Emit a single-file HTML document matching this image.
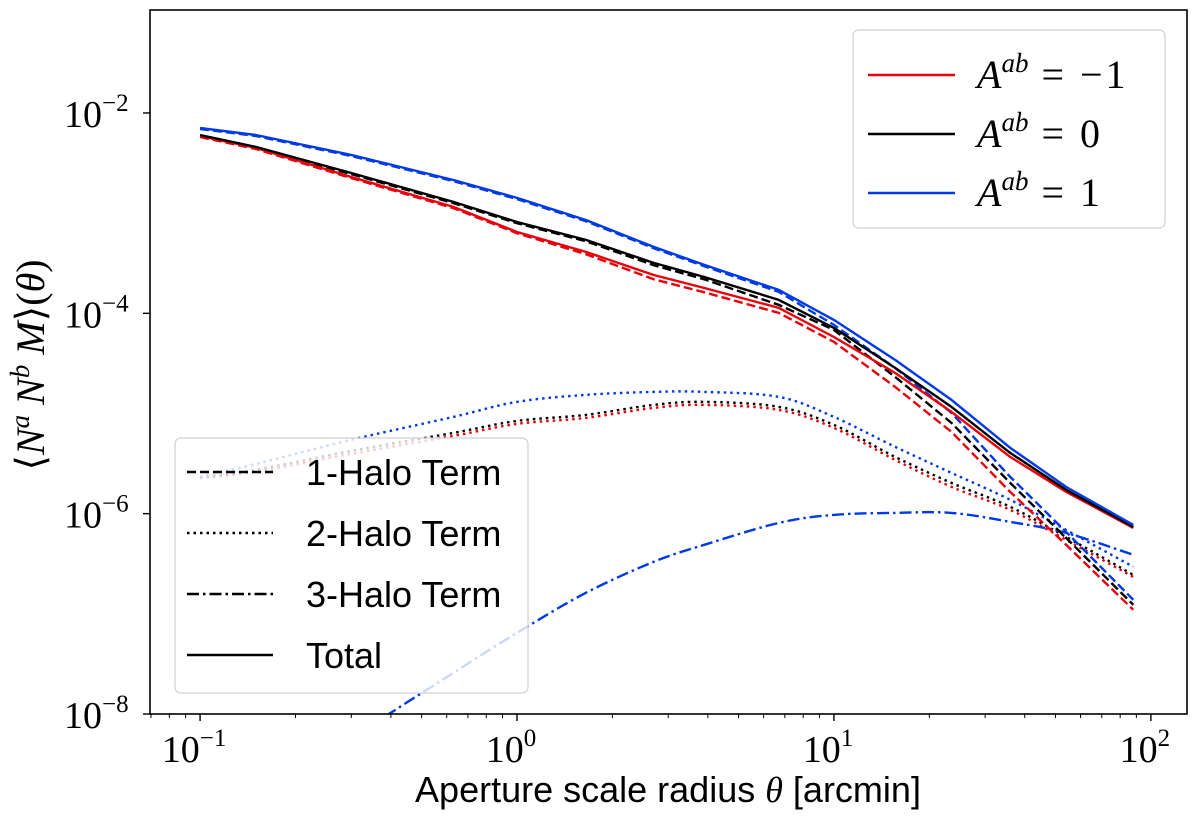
<!DOCTYPE html>
<html><head><meta charset="utf-8"><style>
html,body{margin:0;padding:0;background:#fff;}
svg{display:block;}
</style></head><body>
<svg id="chart" width="1200" height="825" viewBox="0 0 1200 825" xmlns="http://www.w3.org/2000/svg"></svg>
<script>
// theta grid (arcmin)
const thetaValues = [0.1,0.15,0.3,0.63,1.0,1.65,2.7,3.9,6.7,10,15.6,23.5,36,54,88];
// log10 of <NaNbM>(theta)
const totalBlueLog  = [-2.150,-2.220,-2.419,-2.669,-2.848,-3.068,-3.337,-3.517,-3.766,-4.066,-4.465,-4.864,-5.343,-5.733,-6.112];
const totalBlackLog = [-2.220,-2.339,-2.599,-2.888,-3.088,-3.267,-3.497,-3.637,-3.866,-4.146,-4.545,-4.934,-5.393,-5.762,-6.132];
const totalRedLog   = [-2.230,-2.349,-2.639,-2.938,-3.188,-3.387,-3.617,-3.747,-3.946,-4.236,-4.595,-4.984,-5.433,-5.782,-6.142];
const oneHaloBlueLog  = [-2.16,-2.23,-2.43,-2.68,-2.86,-3.08,-3.35,-3.53,-3.786,-4.116,-4.545,-4.994,-5.633,-6.182,-6.860];
const oneHaloBlackLog = [-2.23,-2.35,-2.61,-2.90,-3.10,-3.28,-3.52,-3.66,-3.916,-4.166,-4.635,-5.094,-5.693,-6.242,-6.910];
const oneHaloRedLog   = [-2.24,-2.36,-2.65,-2.95,-3.20,-3.41,-3.66,-3.79,-3.996,-4.285,-4.735,-5.184,-5.783,-6.311,-6.960];
const twoHaloBlueLog  = [-5.633,-5.503,-5.263,-5.034,-4.884,-4.814,-4.784,-4.784,-4.834,-5.034,-5.333,-5.593,-5.862,-6.162,-6.531];
const twoHaloBlackLog = [-5.643,-5.563,-5.373,-5.194,-5.074,-5.014,-4.914,-4.884,-4.934,-5.114,-5.433,-5.693,-5.932,-6.232,-6.611];
const twoHaloRedLog   = [-5.643,-5.583,-5.403,-5.224,-5.104,-5.044,-4.944,-4.914,-4.964,-5.144,-5.463,-5.733,-5.962,-6.262,-6.631];
const threeHaloBlueLog = [-9.295,-8.926,-8.248,-7.589,-7.190,-6.790,-6.481,-6.311,-6.092,-6.012,-5.992,-5.992,-6.082,-6.192,-6.411];
const xTickExps = [-1,0,1,2];
const yTickExps = [-2,-4,-6,-8];
const legendTopLabels = ["= \u22121","= 0","= 1"];
const legendBottomLabels = ["1-Halo Term","2-Halo Term","3-Halo Term","Total"];

const NS="http://www.w3.org/2000/svg";
const svg=document.getElementById('chart');
const L=150,R=1187,T=10,B=714;
const xMinLog=-1.158,xMaxLog=2.114,yMinLog=-8,yMaxLog=-0.972;
function xs(t){return L+(Math.log10(t)-xMinLog)/(xMaxLog-xMinLog)*(R-L);}
function xsLog(e){return L+(e-xMinLog)/(xMaxLog-xMinLog)*(R-L);}
function ys(lg){return B-(lg-yMinLog)/(yMaxLog-yMinLog)*(B-T);}
function mk(tag,attrs,parent){const e=document.createElementNS(NS,tag);for(const k in attrs)e.setAttribute(k,attrs[k]);(parent||svg).appendChild(e);return e;}

const defs=mk('defs',{});
const cp=mk('clipPath',{id:'plotclip'},defs);
mk('rect',{x:L,y:T,width:R-L,height:B-T},cp);

const RED='#e8000b',BLUE='#0039e6',BLACK='#000';
const dashes={solid:'',dash:'9,4',dot:'2.5,4',dashdot:'12,4,2.5,4'};
const series=[
 [twoHaloRedLog,RED,'dot','two-halo-red',true],[twoHaloBlackLog,BLACK,'dot','two-halo-black',true],[twoHaloBlueLog,BLUE,'dot','two-halo-blue',true],
 [threeHaloBlueLog,BLUE,'dashdot','three-halo-blue',true],
 [oneHaloRedLog,RED,'dash','one-halo-red',false],[oneHaloBlackLog,BLACK,'dash','one-halo-black',false],[oneHaloBlueLog,BLUE,'dash','one-halo-blue',false],
 [totalRedLog,RED,'solid','total-red',false],[totalBlackLog,BLACK,'solid','total-black',false],[totalBlueLog,BLUE,'solid','total-blue',false]
];
function pathD(pts,smooth){
  if(!smooth) return pts.map((p,i)=>(i?'L':'M')+p[0].toFixed(1)+','+p[1].toFixed(1)).join(' ');
  let d='M'+pts[0][0].toFixed(1)+','+pts[0][1].toFixed(1);
  for(let i=0;i<pts.length-1;i++){
    const p0=pts[Math.max(0,i-1)],p1=pts[i],p2=pts[i+1],p3=pts[Math.min(pts.length-1,i+2)];
    const c1=[p1[0]+(p2[0]-p0[0])/6,p1[1]+(p2[1]-p0[1])/6];
    const c2=[p2[0]-(p3[0]-p1[0])/6,p2[1]-(p3[1]-p1[1])/6];
    d+=' C'+c1[0].toFixed(1)+','+c1[1].toFixed(1)+' '+c2[0].toFixed(1)+','+c2[1].toFixed(1)+' '+p2[0].toFixed(1)+','+p2[1].toFixed(1);
  }
  return d;
}
const g=mk('g',{'clip-path':'url(#plotclip)'});


series.forEach(s=>{
  const pts=thetaValues.map((t,i)=>[xs(t),ys(s[0][i])]);
  const p=mk('path',{d:pathD(pts,s[4]),fill:'none',stroke:s[1],'stroke-width':2.4,'stroke-dasharray':dashes[s[2]],'stroke-linejoin':'round'},g);
  
  
});

const frame=mk('rect',{x:L,y:T,width:R-L,height:B-T,fill:'none',stroke:'#000','stroke-width':1.6});



for(let e=-2;e<=2;e++){for(let m=1;m<10;m++){const v=e+Math.log10(m);if(v<xMinLog||v>xMaxLog)continue;const x=xsLog(v);
  const tk=mk('line',{x1:x,x2:x,y1:B,y2:B+(m===1?7:4),stroke:'#000','stroke-width':m===1?1.4:1});
  
  }}
xTickExps.forEach(e=>{const x=xsLog(e);
  const t=mk('text',{x:x-6,y:B+48,'text-anchor':'middle','font-family':'Liberation Serif, serif','font-size':38});
  
  
  t.appendChild(document.createTextNode('10'));
  const s=mk('tspan',{dy:-16,'font-size':25},t);s.textContent=e<0?'\u2212'+(-e):String(e);
});
yTickExps.forEach(e=>{const y=ys(e);
  const tk=mk('line',{x1:L-7,x2:L,y1:y,y2:y,stroke:'#000','stroke-width':1.4});
  
  
  const t=mk('text',{x:64,y:y+14,'font-family':'Liberation Serif, serif','font-size':38});
  
  
  t.appendChild(document.createTextNode('10'));
  const s=mk('tspan',{dy:-16,'font-size':25},t);s.textContent='\u2212'+(-e);
});

const xt=mk('text',{x:668,y:802,'text-anchor':'middle','font-family':'Liberation Sans, sans-serif','font-size':36});


xt.innerHTML='Aperture scale radius <tspan font-family="Liberation Serif, serif" font-style="italic">θ</tspan> [arcmin]';
const yt=mk('text',{x:0,y:0,'text-anchor':'middle','font-family':'Liberation Serif, serif','font-size':40,transform:'translate(44,365) rotate(-90)'});


yt.innerHTML='⟨<tspan font-style="italic">N</tspan><tspan dy="-15" font-size="27" font-style="italic">a</tspan><tspan dy="15" font-style="italic"> N</tspan><tspan dy="-15" font-size="27" font-style="italic">b</tspan><tspan dy="15" font-style="italic"> M</tspan>⟩(<tspan font-style="italic">θ</tspan>)';

const lg1=mk('g',{});


mk('rect',{x:853,y:30,width:312,height:198,rx:6,fill:'rgba(255,255,255,0.8)',stroke:'#d0d0d0','stroke-width':1.2},lg1);
[RED,BLACK,BLUE].forEach((c,i)=>{const y=75+i*59;
  const ln=mk('line',{x1:868,x2:955,y1:y,y2:y,stroke:c,'stroke-width':2.4},lg1);
  
  
  const t=mk('text',{x:977,y:y+13,'font-family':'Liberation Serif, serif','font-size':40},lg1);
  
  
  t.innerHTML='<tspan font-style="italic">A</tspan><tspan dy="-16" font-size="27" font-style="italic">ab</tspan><tspan dy="16" letter-spacing="3"> '+legendTopLabels[i]+'</tspan>';
});

const lg2=mk('g',{});


mk('rect',{x:175,y:438,width:353,height:255,rx:6,fill:'rgba(255,255,255,0.8)',stroke:'#d0d0d0','stroke-width':1.2},lg2);
['dash','dot','dashdot','solid'].forEach((st,i)=>{const y=472+i*61;
  const ln=mk('line',{x1:187,x2:273,y1:y,y2:y,stroke:'#000','stroke-width':2.4,'stroke-dasharray':dashes[st]},lg2);
  
  
  const t=mk('text',{x:306,y:y+13,'font-family':'Liberation Sans, sans-serif','font-size':36},lg2);
  
  
  t.textContent=legendBottomLabels[i];
});
</script>
</body></html>
